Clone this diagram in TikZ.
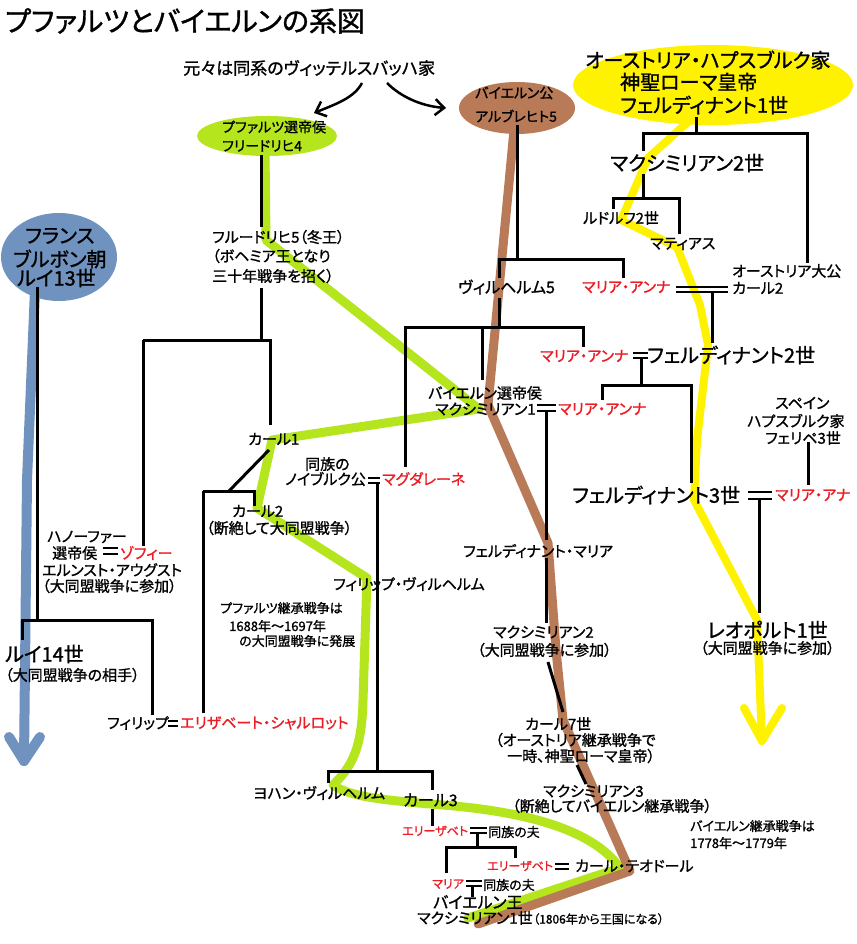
\documentclass[tikz,border=0pt]{standalone}
\usepackage{fontspec}
\setmainfont[RawFeature=+palt,FakeBold=1.2]{Noto Sans CJK JP}
\usetikzlibrary{arrows.meta,shapes.geometric}
\definecolor{limec}{RGB}{181,230,29}
\definecolor{brownc}{RGB}{185,122,87}
\definecolor{yellowc}{RGB}{255,242,0}
\definecolor{bluec}{RGB}{112,146,190}
\definecolor{redc}{RGB}{237,28,36}
\begin{document}
\begin{tikzpicture}[x=1pt,y=-1pt,
  t/.style={anchor=west,inner sep=0pt,font=\fontsize{15}{17}\selectfont},
  tl/.style={t,font=\fontsize{20}{22}\selectfont},
  tm/.style={t,font=\fontsize{16}{18}\selectfont},
  ts/.style={t,font=\fontsize{13}{15}\selectfont},
  txs/.style={t,font=\fontsize{12}{14}\selectfont},
  rd/.style={text=redc},
  bl/.style={line width=3pt},
  dl/.style={line width=2.5pt},
  lin/.style={line width=9pt,line join=round,line cap=round},
  oval/.style={ellipse,inner sep=0pt}]
\useasboundingbox (0,0) rectangle (856,944);
\fill[white] (0,0) rectangle (856,944);

% ---------- coloured lineages ----------
\coordinate (g0) at (265,150); \coordinate (g1) at (266,240);
\coordinate (g2) at (479,409); \coordinate (g3) at (272,440);
\coordinate (g4) at (257,508); \coordinate (g5) at (367,578);
\coordinate (g6) at (363,700); \coordinate (g7) at (333,785);
\coordinate (g8) at (430,804); \coordinate (g9) at (620,868);
\coordinate (g10) at (468,918);
\draw[lin,limec] (g0) -- (g1) -- (g2) -- (g3) -- (g4) -- (g5) -- (g6)
  .. controls (362,752) and (350,768) .. (g7)
  .. controls (350,797) and (385,800) .. (g8)
  .. controls (520,810) and (592,828) .. (g9) -- (g10);

\coordinate (b0) at (514,130); \coordinate (b1) at (488,405);
\coordinate (b2) at (548,543); \coordinate (b3) at (556,650);
\coordinate (b4) at (563,720); \coordinate (b5) at (630,871);
\coordinate (b6) at (478,924);
\draw[lin,brownc] (b0) -- (b1) -- (b2) -- (b3) -- (b4) -- (b5) -- (b6);

\coordinate (y0) at (690,120); \coordinate (y1) at (648,158);
\coordinate (y2) at (632,195); \coordinate (y3) at (621,220);
\coordinate (y4) at (677,247); \coordinate (y5) at (700,305);
\coordinate (y6) at (708,345); \coordinate (y7) at (697,440);
\coordinate (y8) at (694,500); \coordinate (y9) at (757,620);
\coordinate (ytip) at (762,741); \coordinate (ya1) at (744,708);
\coordinate (ya2) at (782,708);
\draw[lin,yellowc,line width=8pt] (y0) -- (y1) -- (y2) -- (y3) -- (y4) -- (y5) -- (y6) -- (y7) -- (y8) -- (y9) -- (ytip);
\draw[lin,yellowc,line width=8pt] (ya1) -- (ytip) -- (ya2);

\coordinate (u0) at (35,290); \coordinate (u1) at (27,480);
\coordinate (utip) at (24,761); \coordinate (ua1) at (9,737);
\coordinate (ua2) at (40,737);
\draw[lin,bluec,line width=10pt] (u0) -- (u1) -- (utip);
\draw[lin,bluec,line width=10pt] (ua1) -- (utip) -- (ua2);

% ---------- ellipses ----------
\node[oval,fill=limec,minimum width=140pt,minimum height=40pt] (eF4) at (267,136) {};
\node[oval,fill=brownc,minimum width=116pt,minimum height=52pt] (eA5) at (517,108) {};
\node[oval,fill=yellowc,minimum width=280pt,minimum height=80pt] (eF1) at (713,85) {};
\node[oval,fill=bluec,minimum width=116pt,minimum height=88pt] (eL13) at (59,257) {};

% ---------- black tree lines ----------
% Friedrich 4 -> 5
\coordinate (k1) at (261,155); \coordinate (k2) at (261,227);
\draw[bl] (k1) -- (k2);
% Friedrich 5 children
\coordinate (k3) at (261,288); \coordinate (k4) at (261,340);
\coordinate (k5) at (143,340); \coordinate (k6) at (270,340);
\coordinate (k7) at (270,425); \coordinate (k8) at (143,546);
\draw[bl] (k3) -- (k4); \draw[bl] (k5) -- (k6) -- (k7); \draw[bl] (k5) -- (k8);
% Karl 1 children
\coordinate (k9) at (269,450); \coordinate (k10) at (229,491);
\coordinate (k11) at (203,491); \coordinate (k12) at (254,491);
\coordinate (k13) at (254,506); \coordinate (k14) at (203,713);
\draw[bl] (k9) -- (k10); \draw[bl] (k11) -- (k12) -- (k13); \draw[bl] (k11) -- (k14);
% Louis 13
\coordinate (l1) at (37,287); \coordinate (l2) at (37,620);
\coordinate (l3) at (22,620); \coordinate (l4) at (152,620);
\coordinate (l5) at (22,640); \coordinate (l6) at (152,715);
\draw[bl] (l1) -- (l2); \draw[bl] (l5) -- (l3) -- (l4) -- (l6);
% Albrecht 5
\coordinate (a1) at (517,125); \coordinate (a2) at (517,259);
\coordinate (a3) at (499,259); \coordinate (a4) at (623,259);
\coordinate (a5) at (499,278); \coordinate (a6) at (623,278);
\draw[bl] (a1) -- (a2); \draw[bl] (a5) -- (a3) -- (a4) -- (a6);
% Wilhelm 5
\coordinate (w1) at (499,298); \coordinate (w2) at (499,327);
\coordinate (w3) at (405,327); \coordinate (w4) at (583,327);
\coordinate (w5) at (405,467); \coordinate (w6) at (482,327);
\coordinate (w7) at (482,380); \coordinate (w8) at (583,347);
\draw[bl] (w1) -- (w2); \draw[bl] (w5) -- (w3) -- (w4) -- (w8); \draw[bl] (w6) -- (w7);
% Ferdinand 1
\coordinate (h1) at (696,117); \coordinate (h2) at (696,134);
\coordinate (h3) at (643,134); \coordinate (h4) at (807,134);
\coordinate (h5) at (643,151); \coordinate (h6) at (807,263);
\coordinate (h7) at (643,174); \coordinate (h8) at (643,198);
\draw[bl] (h1) -- (h2); \draw[bl] (h5) -- (h3) -- (h4) -- (h6); \draw[bl] (h7) -- (h8);
% Maximilian 2 (Habsburg)
\coordinate (m1) at (613,198); \coordinate (m2) at (679,198);
\coordinate (m3) at (613,209); \coordinate (m4) at (679,234);
\draw[bl] (m3) -- (m1) -- (m2) -- (m4);
% Maria Anna = Karl 2
\coordinate (c1) at (676,287); \coordinate (c2) at (728,287);
\coordinate (c3) at (676,292); \coordinate (c4) at (728,292);
\coordinate (c5) at (712,292); \coordinate (c6) at (712,343);
\draw[dl] (c1) -- (c2); \draw[dl] (c3) -- (c4); \draw[bl] (c5) -- (c6);
% Ferdinand 2 = Maria Anna
\coordinate (d1) at (633,353); \coordinate (d2) at (648,353);
\coordinate (d3) at (633,358); \coordinate (d4) at (648,358);
\coordinate (d5) at (641,358); \coordinate (d6) at (641,385);
\coordinate (d7) at (602,385); \coordinate (d8) at (691,385);
\coordinate (d9) at (602,400); \coordinate (d10) at (691,483);
\draw[dl] (d1) -- (d2); \draw[dl] (d3) -- (d4); \draw[bl] (d5) -- (d6);
\draw[bl] (d9) -- (d7) -- (d8) -- (d10);
% Maximilian 1 = Maria Anna
\coordinate (x1) at (537,405); \coordinate (x2) at (556,405);
\coordinate (x3) at (537,411); \coordinate (x4) at (556,411);
\coordinate (x5) at (546,411); \coordinate (x6) at (546,540);
\coordinate (x7) at (546,558); \coordinate (x8) at (546,623);
\draw[dl] (x1) -- (x2); \draw[dl] (x3) -- (x4); \draw[bl] (x5) -- (x6); \draw[bl] (x7) -- (x8);
\coordinate (x9) at (548,662); \coordinate (x10) at (563,712);
\coordinate (x11) at (577,765); \coordinate (x12) at (586,784);
\draw[bl] (x9) -- (x10); \draw[bl] (x11) -- (x12);
% Neuburg = Magdalene
\coordinate (n1) at (368,478); \coordinate (n2) at (380,478);
\coordinate (n3) at (368,483); \coordinate (n4) at (380,483);
\coordinate (n5) at (377,483); \coordinate (n6) at (377,771);
\coordinate (n7) at (328,771); \coordinate (n8) at (432,771);
\coordinate (n9) at (328,783); \coordinate (n10) at (432,790);
\coordinate (n11) at (432,809); \coordinate (n12) at (432,826);
\draw[dl] (n1) -- (n2); \draw[dl] (n3) -- (n4); \draw[bl] (n5) -- (n6);
\draw[bl] (n9) -- (n7) -- (n8) -- (n10); \draw[bl] (n11) -- (n12);
% Elisabeth = husband
\coordinate (z1) at (470,828); \coordinate (z2) at (487,828);
\coordinate (z3) at (470,833); \coordinate (z4) at (487,833);
\coordinate (z5) at (477,833); \coordinate (z6) at (477,847);
\coordinate (z7) at (446,847); \coordinate (z8) at (515,847);
\coordinate (z9) at (446,873); \coordinate (z10) at (515,858);
\draw[dl] (z1) -- (z2); \draw[dl] (z3) -- (z4); \draw[bl] (z5) -- (z6);
\draw[bl] (z9) -- (z7) -- (z8) -- (z10);
% Elisabeth = Karl Theodor
\coordinate (q1) at (555,864); \coordinate (q2) at (569,864);
\coordinate (q3) at (555,869); \coordinate (q4) at (569,869);
\draw[dl] (q1) -- (q2); \draw[dl] (q3) -- (q4);
% Maria = husband
\coordinate (r1) at (466,881); \coordinate (r2) at (482,881);
\coordinate (r3) at (466,886); \coordinate (r4) at (482,886);
\coordinate (r5) at (472,886); \coordinate (r6) at (472,897);
\draw[dl] (r1) -- (r2); \draw[dl] (r3) -- (r4); \draw[bl] (r5) -- (r6);
% Philipp = Elisabeth Charlotte
\coordinate (p1) at (168,721); \coordinate (p2) at (178,721);
\coordinate (p3) at (168,726); \coordinate (p4) at (178,726);
\draw[dl] (p1) -- (p2); \draw[dl] (p3) -- (p4);
% Hanover = Sophie
\coordinate (s1) at (103,548); \coordinate (s2) at (118,548);
\coordinate (s3) at (103,554); \coordinate (s4) at (118,554);
\draw[dl] (s1) -- (s2); \draw[dl] (s3) -- (s4);
% Ferdinand 3 = Maria Ana
\coordinate (o1) at (748,492); \coordinate (o2) at (772,492);
\coordinate (o3) at (748,499); \coordinate (o4) at (772,499);
\coordinate (o5) at (759,499); \coordinate (o6) at (759,613);
\draw[dl] (o1) -- (o2); \draw[dl] (o3) -- (o4); \draw[bl] (o5) -- (o6);
% Philip 3
\coordinate (v1) at (808,442); \coordinate (v2) at (808,485);
\draw[bl] (v1) -- (v2);

% curved arrows from the common origin
\coordinate (ar1s) at (362,83); \coordinate (ar1e) at (314,113);
\coordinate (ar2s) at (387,83); \coordinate (ar2e) at (446,108);
\draw[line width=2.5pt,-{Straight Barb[length=9pt,width=16pt,line width=2.5pt]}]
  (ar1s) .. controls (354,98) and (336,104) .. (ar1e);
\draw[line width=2.5pt,-{Straight Barb[length=9pt,width=16pt,line width=2.5pt]}]
  (ar2s) .. controls (400,96) and (420,106) .. (ar2e);

% ---------- texts ----------
\node[t,font=\fontsize{28}{30}\selectfont] (title) at (5,21) {プファルツとバイエルンの系図};
\node[t,font=\fontsize{17}{19}\selectfont] (orig) at (183,68) {元々は同系のヴィッテルスバッハ家};

\node[t,font=\fontsize{14}{16}\selectfont] (f4a) at (222,127) {プファルツ選帝侯};
\node[t,font=\fontsize{14}{16}\selectfont] (f4b) at (222,146) {フリードリヒ4};
\node[t,font=\fontsize{14}{16}\selectfont] (a5a) at (475,93) {バイエルン公};
\node[t,font=\fontsize{14}{16}\selectfont] (a5b) at (475,116) {アルブレヒト5};
\node[tl] (fe1a) at (585,60) {オーストリア・ハプスブルク家};
\node[tl] (fe1b) at (620,82) {神聖ローマ皇帝};
\node[tl] (fe1c) at (620,105) {フェルディナント1世};
\node[tl] (l13a) at (25,236) {フランス};
\node[tl] (l13b) at (13,259) {ブルボン朝};
\node[tl] (l13c) at (17,278) {ルイ13世};

\node[t] (f5a) at (212,237) {フルードリヒ5（冬王）};
\node[t] (f5b) at (212,256) {（ボヘミア王となり};
\node[t] (f5c) at (212,276) {三十年戦争を招く）};
\node[t] (k1n) at (248,439) {カール1};
\node[t] (nb1) at (305,464) {同族の};
\node[t] (nb2) at (285,479) {ノイブルク公};
\node[t,rd] (mag) at (382,479) {マグダレーネ};
\node[t] (k2a) at (232,511) {カール2};
\node[t] (k2b) at (206,528) {（断絶して大同盟戦争）};
\node[t] (pw) at (333,584) {フィリップ・ヴィルヘルム};
\node[ts] (pn1) at (220,608) {プファルツ継承戦争は};
\node[ts] (pn2) at (229,626) {1688年～1697年};
\node[ts] (pn3) at (239,641) {の大同盟戦争に発展};
\node[t] (hn1) at (47,537) {ハノーファー};
\node[t] (hn2) at (52,553) {選帝侯};
\node[t,rd] (soph) at (120,553) {ゾフィー};
\node[t] (hn3) at (42,570) {エルンスト・アウグスト};
\node[t] (hn4) at (42,586) {（大同盟戦争に参加）};
\node[tl] (l14a) at (5,654) {ルイ14世};
\node[t] (l14b) at (5,675) {（大同盟戦争の相手）};
\node[t] (phil) at (107,723) {フィリップ};
\node[t,rd] (elc) at (180,723) {エリザベート・シャルロット};
\node[t] (jw) at (253,793) {ヨハン・ヴィルヘルム};
\node[tm] (k3) at (403,800) {カール3};
\node[txs,rd] (el1) at (402,831) {エリーザベト};
\node[ts] (hu1) at (488,832) {同族の夫};
\node[txs,rd] (el2) at (487,866) {エリーザベト};
\node[t] (kt) at (575,866) {カール・テオドール};
\node[txs,rd] (mar) at (432,884) {マリア};
\node[ts] (hu2) at (483,885) {同族の夫};
\node[tm] (bk1) at (433,902) {バイエルン王};
\node[t] (bk2) at (417,918) {マクシミリアン1世};
\node[txs] (bk3) at (533,919) {（1806年から王国になる）};
\node[t] (mx3a) at (543,791) {マクシミリアン3};
\node[t] (mx3b) at (512,806) {（断絶してバイエルン継承戦争）};
\node[ts] (bn1) at (690,826) {バイエルン継承戦争は};
\node[ts] (bn2) at (690,843) {1778年～1779年};
\node[t] (k7a) at (525,724) {カール7世};
\node[t] (k7b) at (495,740) {（オーストリア継承戦争で};
\node[t] (k7c) at (507,756) {一時、神聖ローマ皇帝）};
\node[t] (mx2a) at (493,632) {マクシミリアン2};
\node[t] (mx2b) at (477,650) {（大同盟戦争に参加）};
\node[t] (fm) at (463,551) {フェルディナント・マリア};
\node[t] (mx1a) at (428,393) {バイエルン選帝侯};
\node[t] (mx1b) at (435,409) {マクシミリアン1};
\node[t,rd] (ma3) at (558,409) {マリア・アンナ};
\node[tl] (fe3) at (572,495) {フェルディナント3世};
\node[t,rd] (mana) at (775,495) {マリア・アナ};
\node[tl] (leo) at (707,630) {レオポルト1世};
\node[t] (leob) at (700,648) {（大同盟戦争に参加）};
\node[tm] (w5) at (458,287) {ヴィルヘルム5};
\node[t,rd] (ma1) at (582,287) {マリア・アンナ};
\node[t,rd] (ma2) at (540,356) {マリア・アンナ};
\node[tl] (fe2) at (647,355) {フェルディナント2世};
\node[t] (sp1) at (775,403) {スペイン};
\node[t] (sp2) at (747,421) {ハプスブルク家};
\node[t] (sp3) at (765,438) {フェリペ3世};
\node[t] (ka1) at (732,271) {オーストリア大公};
\node[t] (ka2) at (732,288) {カール2};
\node[t] (mat) at (650,244) {マティアス};
\node[t] (rud) at (583,218) {ルドルフ2世};
\node[tl] (mx2h) at (610,163) {マクシミリアン2世};
\end{tikzpicture}
\end{document}
